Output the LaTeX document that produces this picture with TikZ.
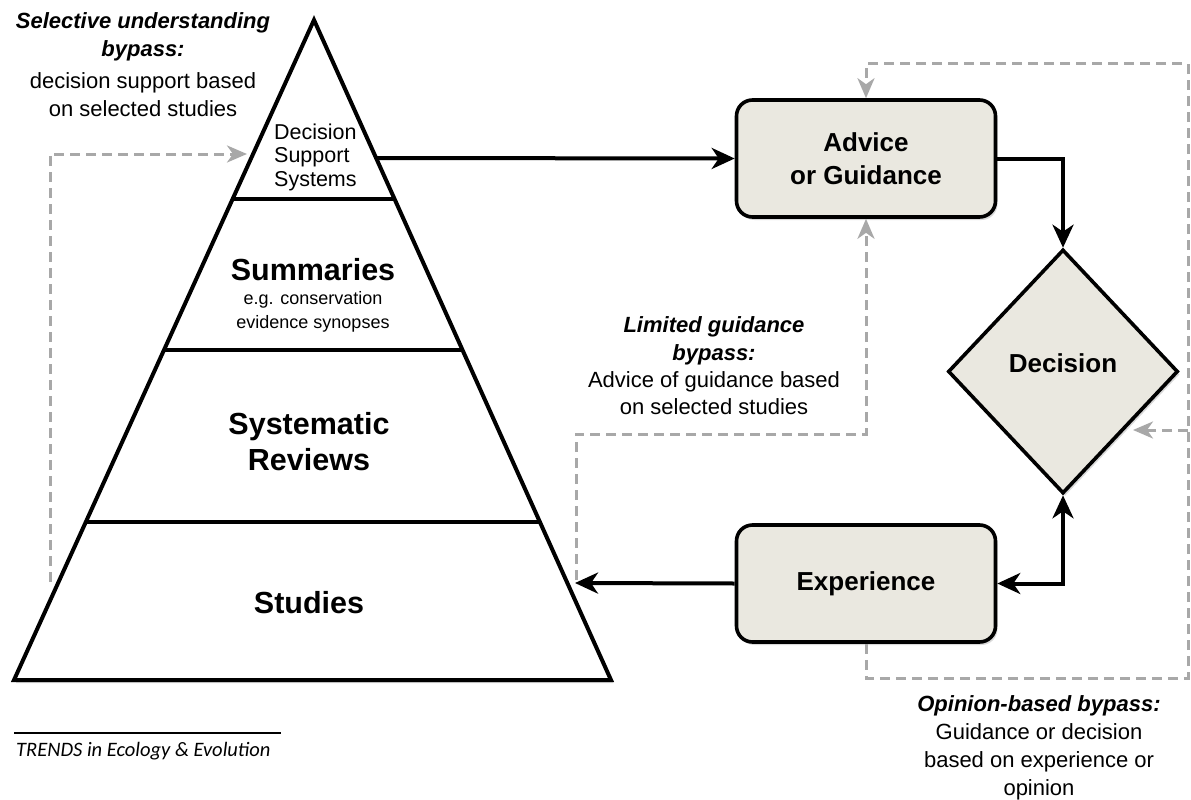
\documentclass[tikz,border=0pt]{standalone}
\usepackage{fontspec}
\setmainfont{Liberation Sans}
\newfontfamily\trendsfont{Carlito}
\usetikzlibrary{shapes.geometric,arrows.meta,shadows}

\definecolor{boxfill}{RGB}{234,232,224}
\definecolor{bypassgray}{RGB}{168,168,168}

\tikzset{
  softshadow/.style={drop shadow={shadow xshift=2pt,shadow yshift=-3pt,opacity=0.25,fill=black!60}},
  tier/.style={draw=black,line width=4pt},
  flowbox/.style={draw=black,line width=3.6pt,fill=boxfill,rounded corners=16pt,
    minimum width=259pt,minimum height=117pt,align=center,inner sep=0pt,
    font=\fontsize{26}{33}\selectfont\bfseries,softshadow},
  decisionbox/.style={diamond,draw=black,line width=3.6pt,fill=boxfill,
    minimum width=230pt,minimum height=244pt,inner sep=0pt,softshadow},
  flow/.style={line width=4pt,-{Stealth[length=23pt,width=21pt,inset=7pt]}},
  flowboth/.style={line width=4pt,{Stealth[length=23pt,width=21pt,inset=7pt]}-{Stealth[length=23pt,width=21pt,inset=7pt]}},
  bypass/.style={draw=bypassgray,line width=3pt,dash pattern=on 10pt off 6pt,
    -{Stealth[length=20pt,width=17pt,inset=6pt]}},
  anno/.style={align=center,inner sep=0pt,font=\fontsize{22}{28}\selectfont},
  tierbig/.style={align=center,inner sep=0pt,font=\fontsize{30.5}{36}\selectfont\bfseries},
}

\begin{document}
\begin{tikzpicture}[x=1pt,y=-1pt]
\useasboundingbox (0,0) rectangle (1191,800);

% evidence pyramid
\coordinate (apex) at (314,20);
\coordinate (baseR) at (611,680);
\coordinate (baseL) at (14,680);
\draw[tier,fill=white,softshadow,line join=miter] (apex) -- (baseR) -- (baseL) -- cycle;
\draw[tier] (232.6,199) -- (394.5,199);
\draw[tier] (164,350) -- (462.5,350);
\draw[tier] (85.8,522) -- (539.9,522);

% tier labels
\node[anchor=west,align=left,inner sep=0pt,font=\fontsize{21.5}{23.5}\selectfont] (dss) at (274,157)
  {Decision\\Support\\Systems};
\node[tierbig] (summ) at (313,270) {Summaries};
\node[align=center,inner sep=0pt,font=\fontsize{18}{24.5}\selectfont] (summsub) at (313,312)
  {e.g. conservation\\evidence synopses};
\node[tierbig] (sysrev) at (309,442) {Systematic\\Reviews};
\node[tierbig] (studies) at (309,603) {Studies};

% points on the pyramid edge
\coordinate (dssR) at (377,158);
\coordinate (dssL) at (247,154);
\coordinate (studR) at (575,583);

% decision flow
\node[flowbox] (adv) at (866,158.5) {Advice\\or Guidance};
\node[flowbox] (exp) at (866,583.5) {Experience};
\node[decisionbox] (dec) at (1063,371.5) {};
\node[inner sep=0pt,font=\fontsize{26}{30}\selectfont\bfseries] (decText) at (1063,363) {Decision};

\draw[flow] (dssR) -- (adv.west);
\draw[flow] (adv.east) -| (dec.north);
\draw[flow] (exp.west) -- (studR);
\draw[flowboth] (exp.east) -| (dec.south);

% selective understanding bypass
\coordinate (selA) at (50,582);
\coordinate (selB) at (50,154);
\draw[bypass] (selA) -- (selB) -- (dssL);

% limited guidance bypass
\coordinate (limA) at (576,580);
\coordinate (limB) at (576,434);
\coordinate (limC) at (866,434);
\draw[bypass] (limA) -- (limB) -- (limC) -- (adv.south);

% opinion-based bypass
\coordinate (opA) at (866,678);
\coordinate (opB) at (1188,678);
\coordinate (opC) at (1188,64);
\coordinate (opD) at (866,64);
\coordinate (opE) at (1188,430);
\coordinate (opF) at (1133,430);
\draw[bypass] (exp.south) -- (opA) -- (opB) -- (opC) -- (opD) -- (adv.north);
\draw[bypass] (opE) -- (opF);

% bypass captions
\node[anno] (selText) at (143,65)
  {\textbf{\textit{Selective understanding}}\\\textbf{\textit{bypass:}}\\[4pt]decision support based\\on selected studies};
\node[anno,font=\fontsize{22}{27.3}\selectfont] (limText) at (714,366)
  {\textbf{\textit{Limited guidance}}\\\textbf{\textit{bypass:}}\\Advice of guidance based\\on selected studies};
\node[anno] (opText) at (1039,748)
  {\textbf{\textit{Opinion-based bypass:}}\\Guidance or decision\\based on experience or\\opinion};

% journal footer
\draw[line width=2.2pt] (14,733) -- (281,733);
\node[anchor=west,inner sep=0pt,font={\trendsfont\itshape\fontsize{20.5}{24}\selectfont}] (trends) at (16,751)
  {TRENDS in Ecology \& Evolution};
\end{tikzpicture}
\end{document}
